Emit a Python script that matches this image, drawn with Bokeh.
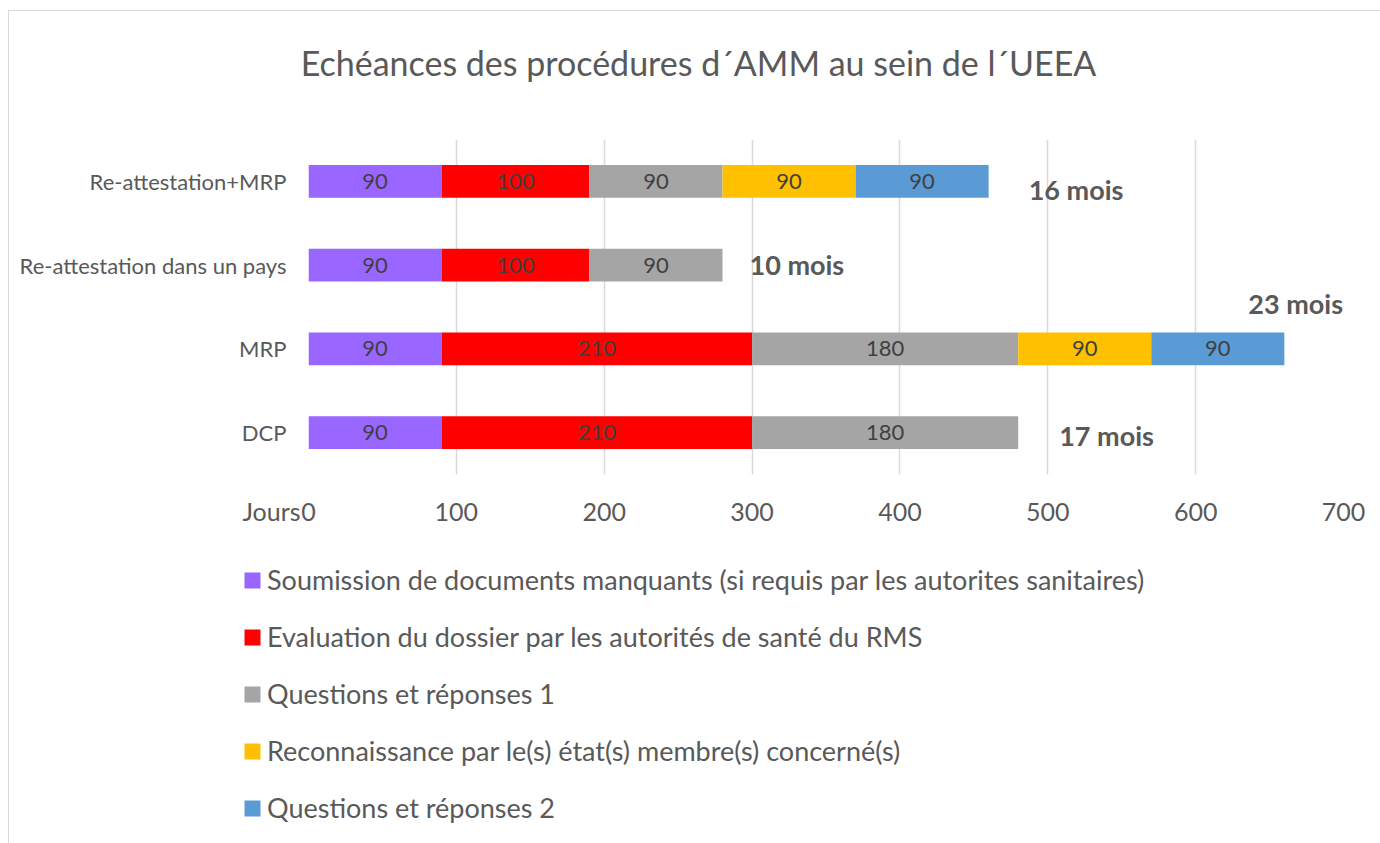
from bokeh.plotting import figure
from bokeh.models import (ColumnDataSource, FactorRange, Range1d, FixedTicker,
                          Legend, LegendItem, Label, Column)
from bokeh.core.properties import value
from bokeh.embed import file_html
from bokeh.resources import INLINE

# ---------------- data ----------------
title_text = "Echéances des procédures d´AMM au sein de l´UEEA"
axis_title = "Jours"
categories = ["DCP", "MRP", "Re-attestation dans un pays", "Re-attestation+MRP"]
series_names = [
    "Soumission de documents manquants (si requis par les autorites sanitaires)",
    "Evaluation du dossier par les autorités de santé du RMS",
    "Questions et réponses 1",
    "Reconnaissance par le(s) état(s) membre(s) concerné(s)",
    "Questions et réponses 2",
]
soumission = [90, 90, 90, 90]
evaluation = [210, 210, 100, 100]
questions_1 = [180, 180, 90, 90]
reconnaissance = [0, 90, 0, 90]
questions_2 = [0, 90, 0, 90]
total_labels = ["17 mois", "23 mois", "10 mois", "16 mois"]
x_ticks = [0, 100, 200, 300, 400, 500, 600, 700]

# ---------------- styles ----------------
colors = ["#9966FF", "#FF0000", "#A5A5A5", "#FFC000", "#5B9BD5"]
FONT = "Lato"
TXT = "#595959"
total_x_offsets = [41, -36, 27, 40]
total_y_offsets = [3, -45, -1, 8]

series = [soumission, evaluation, questions_1, reconnaissance, questions_2]
keys = ["s%d" % i for i in range(len(series))]
data = {"cat": categories}
for k, s in zip(keys, series):
    data[k] = s
source = ColumnDataSource(data)

W = 1371
H0 = 100            # title strip
H1 = 430            # chart strip
OV = 60             # legend strip overlaps the tick-label row
H2 = 843 - 11 - H0 - H1 + OV


def bare(width, height, **kw):
    f = figure(width=width, height=height, output_backend="svg",
               toolbar_location=None, x_axis_location=None,
               y_axis_location=None, min_border=0, min_border_left=0,
               min_border_right=0, min_border_top=0, min_border_bottom=0, **kw)
    f.outline_line_color = None
    f.grid.visible = False
    f.background_fill_alpha = 0
    f.border_fill_alpha = 0
    return f


# ---------------- title strip ----------------
tp = bare(W, H0, x_range=Range1d(0, 1), y_range=Range1d(0, 1))
tp.add_layout(Label(x=689, y=H0 - 51, x_units="screen", y_units="screen",
                    text=title_text, text_align="center", text_baseline="middle",
                    text_font=FONT, text_font_size="34px", text_color=TXT))

# ---------------- main chart ----------------
p = figure(width=W, height=H1, output_backend="svg", toolbar_location=None,
           y_range=FactorRange(factors=categories), x_range=Range1d(0, 700),
           min_border_left=299, min_border_right=37, min_border_top=28,
           min_border_bottom=67)
p.outline_line_color = None
p.background_fill_alpha = 0
p.border_fill_alpha = 0

renderers = p.hbar_stack(keys, y="cat", height=0.39, color=colors,
                         line_color=None, source=source)

vx, vy, vt = [], [], []
for ci, cat in enumerate(categories):
    left = 0
    for s in series:
        v = s[ci]
        if v > 0:
            vx.append(left + v / 2)
            vy.append(cat)
            vt.append(str(v))
        left += v
p.text(x=vx, y=vy, text=vt, text_align="center", text_baseline="middle",
       text_font=value(FONT), text_font_size="22px", text_color="#404040")

totals = [sum(s[ci] for s in series) for ci in range(len(categories))]
tsrc = ColumnDataSource(dict(x=totals, y=categories, t=total_labels,
                             xo=total_x_offsets, yo=total_y_offsets))
p.text(x="x", y="y", text="t", x_offset="xo", y_offset="yo", source=tsrc,
       text_align="left", text_baseline="middle", text_font=value(FONT),
       text_font_style="bold", text_font_size="27px", text_color=TXT)

p.xaxis.ticker = FixedTicker(ticks=x_ticks)
p.xaxis.axis_line_color = None
p.xaxis.major_tick_line_color = None
p.xaxis.minor_tick_line_color = None
p.xaxis.major_label_text_font = FONT
p.xaxis.major_label_text_font_size = "25px"
p.xaxis.major_label_text_color = TXT
p.xaxis.major_label_standoff = 22

p.yaxis.axis_line_color = None
p.yaxis.major_tick_line_color = None
p.yaxis.minor_tick_line_color = None
p.yaxis.major_label_text_font = FONT
p.yaxis.major_label_text_font_size = "22px"
p.yaxis.major_label_text_color = TXT
p.yaxis.major_label_standoff = 16

p.xgrid.grid_line_color = "#d9d9d9"
p.xgrid.grid_line_width = 1.5
p.ygrid.grid_line_color = None

# ---------------- legend strip ----------------
# same stacked glyphs, used only as legend swatches: the x range lies far
# away from the data, so nothing of them is drawn inside this strip
lp = bare(W, H2, x_range=Range1d(-3000, -2000),
          y_range=FactorRange(factors=categories))
lp.margin = (-OV, 0, 0, 0)
swatches = lp.hbar_stack(keys, y="cat", height=0.39, color=colors,
                         line_color=None, source=source)

lp.add_layout(Label(x=291, y=H2 - 29, x_units="screen", y_units="screen",
                    text=axis_title, text_align="right", text_baseline="middle",
                    text_font=FONT, text_font_size="25px", text_color=TXT))

items = [LegendItem(label=n, renderers=[r]) for n, r in zip(series_names, swatches)]
legend = Legend(items=items, location=(233, 19), orientation="vertical",
                glyph_width=20, glyph_height=20, label_standoff=5,
                label_text_font=FONT, label_text_font_size="27px",
                label_text_color=TXT, label_height=27, spacing=24,
                padding=0, margin=0, border_line_color=None,
                background_fill_alpha=0)
lp.add_layout(legend)

for fig in (tp, p, lp):
    try:
        fig.frame_align = False
    except Exception:
        pass

layout = Column(children=[tp, p, lp], spacing=0)
layout.styles = {"margin-left": "8px", "margin-top": "10px",
                 "border-left": "1px solid #d9d9d9",
                 "border-top": "1px solid #d9d9d9"}

open("out.html", "w").write(file_html(layout, INLINE))
